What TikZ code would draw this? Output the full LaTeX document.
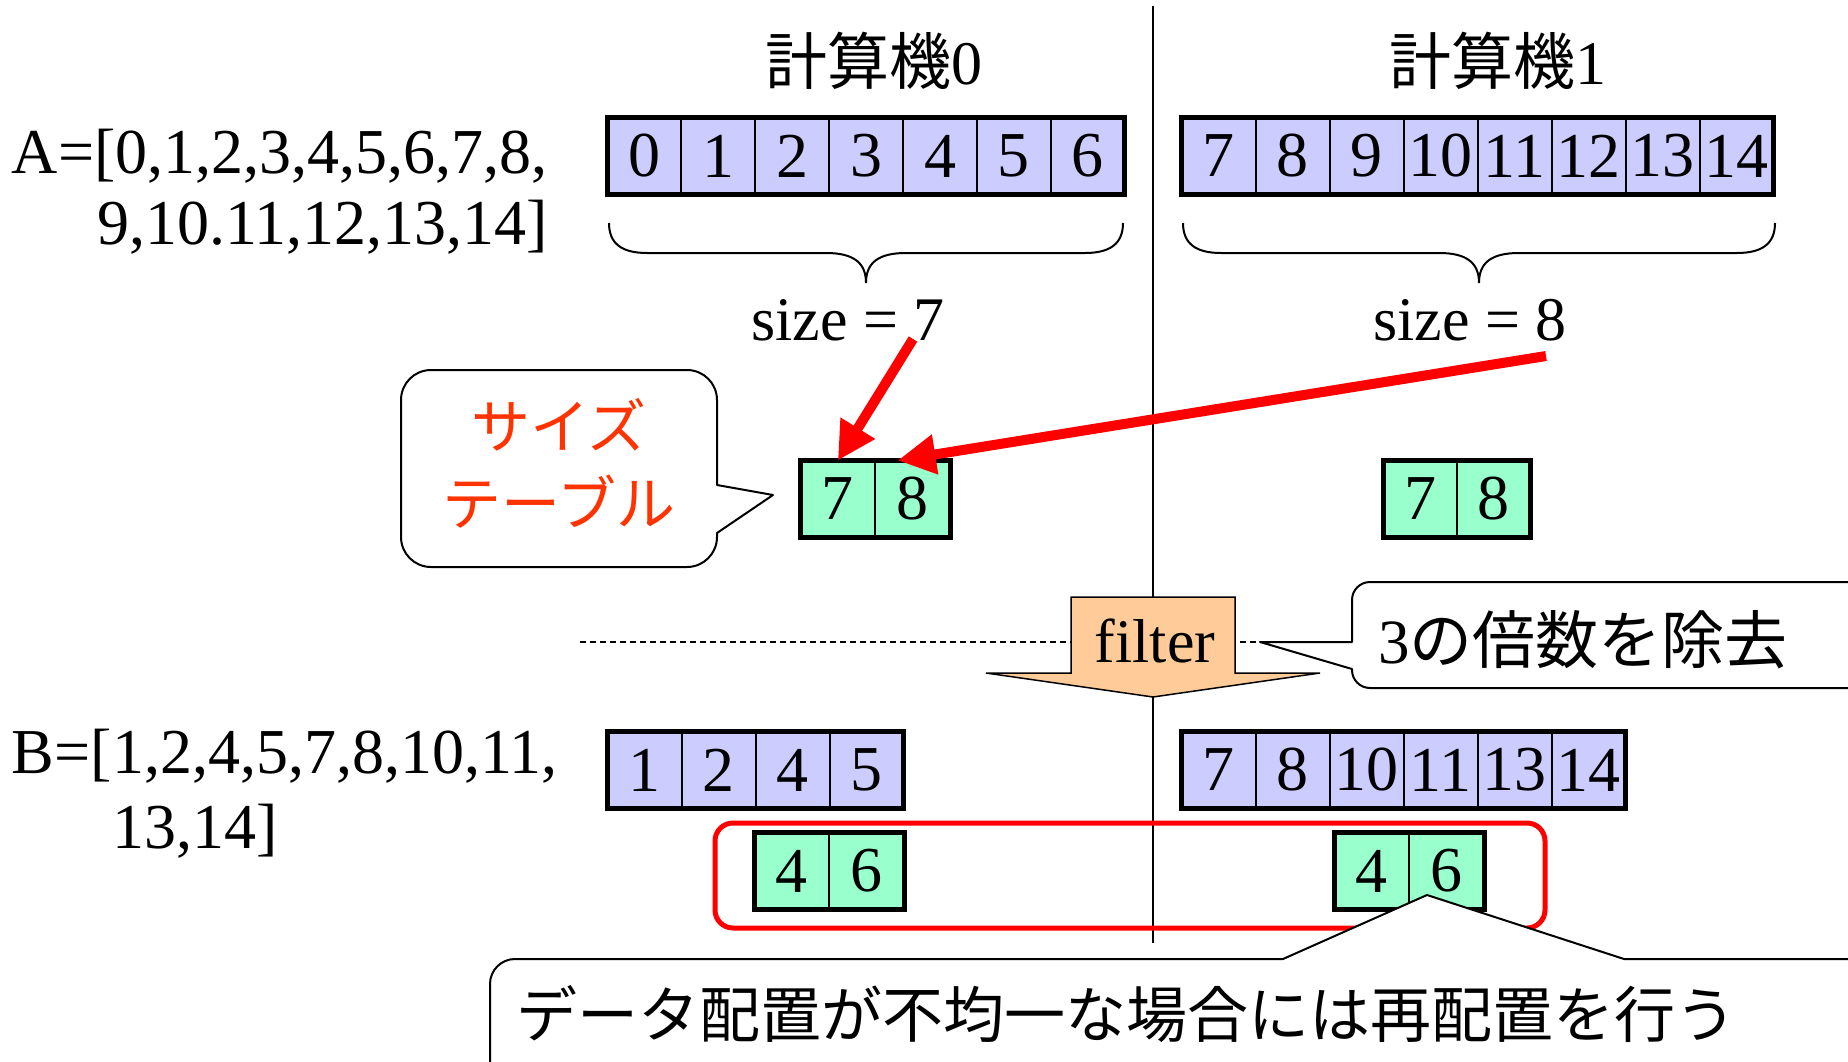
\documentclass[tikz,border=0pt]{standalone}
\usepackage{fontspec}
\setmainfont{Liberation Serif}
\newfontfamily\cjk{Noto Sans CJK JP}
\usetikzlibrary{arrows.meta}
\definecolor{cellblue}{HTML}{CCCCFF}
\definecolor{cellgreen}{HTML}{99FFCC}
\definecolor{filterfill}{HTML}{FFCC99}
\definecolor{calloutred}{HTML}{FF3300}
\newcommand\fs[1]{\fontsize{#1}{#1}\selectfont}
\tikzset{
  cellbase/.style={draw, line width=2pt, inner sep=0pt, outer sep=0pt, minimum height=77pt, font=\fs{64}},
  bluecell/.style={cellbase, fill=cellblue},
  greencell/.style={cellbase, fill=cellgreen},
  outerbox/.style={line width=5pt},
  txt/.style={inner sep=0pt, outer sep=0pt},
  callout/.style={draw, fill=white, line width=2pt, line join=round, line cap=round},
  redarrow/.style={draw=red, color=red, line width=10pt, -{Triangle[length=38pt,width=38pt]}},
  bracestyle/.style={line width=2pt},
}
\newcommand\cellrow[7]{%
  \foreach \v [count=\i from 0] in {#6} {
    \node[#5, minimum width=#4pt] (#1-\i) at ({#2+(\i+0.5)*#4}, #3) {\v};
  }
  \draw[outerbox] (#1-0.north west) rectangle (#1-#7.south east);
}
\newcommand\mybrace[2]{%
  \pgfmathsetmacro\xm{(#1+#2)/2}
  \draw[bracestyle] (#1,223) .. controls (#1,243) and (#1+12,253) .. (#1+38,253)
    -- (\xm-40,253) .. controls (\xm-12,253) and (\xm,263) .. (\xm,283)
    .. controls (\xm,263) and (\xm+12,253) .. (\xm+40,253)
    -- (#2-38,253) .. controls (#2-12,253) and (#2,243) .. (#2,223);
}
\begin{document}
\begin{tikzpicture}[x=1pt, y=-1pt]
\path[use as bounding box, clip] (0,0) rectangle (1848,1062);
\fill[white] (0,0) rectangle (1848,1062);

% divider lines
\draw[line width=1.5pt] (1153,6) -- (1153,943);
\draw[line width=1.5pt, dash pattern=on 6pt off 4pt] (580,642) -- (1352,642);

% headers
\node[txt, font=\fs{62}] (h0) at (874,61) {{\cjk 計算機}0};
\node[txt, font=\fs{62}] (h1) at (1498,61) {{\cjk 計算機}1};

% A and B lists
\node[txt, anchor=base west, font=\fs{64}] (A1) at (12,174) {A=[0,1,2,3,4,5,6,7,8,};
\node[txt, anchor=base east, font=\fs{64}] (A2) at (548,244) {9,10.11,12,13,14]};
\node[txt, anchor=base west, font=\fs{64}] (B1) at (12,773) {B=[1,2,4,5,7,8,10,11,};
\node[txt, anchor=base west, font=\fs{64}] (B2) at (112,848) {13,14]};

% top arrays
\cellrow{TA}{607.5}{156}{73.9}{bluecell}{0,1,2,3,4,5,6}{6}
\cellrow{TB}{1181.5}{156}{74}{bluecell}{7,8,9,10,11,12,13,14}{7}

% braces
\mybrace{609}{1123}
\mybrace{1183}{1775}
\node[txt, anchor=base, font=\fs{62}] (sz0) at (848,340) {size = 7};
\node[txt, anchor=base, font=\fs{62}] (sz1) at (1470,340) {size = 8};

% size tables
\cellrow{SA}{800.5}{499}{74.75}{greencell}{7,8}{1}
\cellrow{SB}{1383.5}{499}{73.5}{greencell}{7,8}{1}

% callout size table
\draw[callout] (717,485) -- (773,495) -- (717,533) [rounded corners=30pt] -- (717,567) -- (401,567) -- (401,370) -- (717,370) -- (717,485);
\node[txt, font=\fs{59}\cjk, text=calloutred, align=center] (sztbl) at (559,425) {サイズ};
\node[txt, font=\fs{59}\cjk, text=calloutred, align=center] (sztbl2) at (559,502) {テーブル};

% red arrows
\coordinate (r1s) at (913,339);
\coordinate (r2s) at (1546,356);
\draw[redarrow] (r1s) -- (SA-0.north);
\draw[redarrow] (r2s) -- ([xshift=-15pt]SA-1.north);

% filter arrow
\draw[fill=filterfill, line width=1.5pt, line join=miter] (1071,597) -- (1235,597) -- (1235,673) -- (1320,673) -- (1153,697) -- (986,673) -- (1071,673) -- cycle;
\node[txt, anchor=base, font=\fs{62}] (filter) at (1155,662) {filter};

% callout filter
\draw[callout] (1352,642) -- (1260,642) -- (1352,669) [rounded corners=18pt] -- (1352,688) -- (1880,688) -- (1880,582) -- (1352,582) -- (1352,642);
\node[txt, anchor=west, font=\fs{63}] (rm3) at (1378,640) {3{\cjk の倍数を除去}};

% B arrays
\cellrow{BA}{607.5}{770}{74}{bluecell}{1,2,4,5}{3}
\cellrow{BB}{1181.5}{770}{74}{bluecell}{7,8,10,11,13,14}{5}

% new size tables
\cellrow{NA}{754}{871}{75}{greencell}{4,6}{1}
\cellrow{NB}{1334}{871}{75}{greencell}{4,6}{1}

% red group box
\node[draw=red, line width=5pt, rounded corners=18pt, minimum width=830pt, minimum height=105pt, inner sep=0pt] (grp) at (1130,875.5) {};

% bottom callout
\draw[callout] (1624,959) -- (1427,895) -- (1283,959) [rounded corners=25pt] -- (490,959) -- (490,1100) -- (1880,1100) -- (1880,959) -- (1624,959);
\node[txt, anchor=west, font=\fs{61}\cjk] (note) at (516,1014) {データ配置が不均一な場合には再配置を行う};
\end{tikzpicture}
\end{document}
